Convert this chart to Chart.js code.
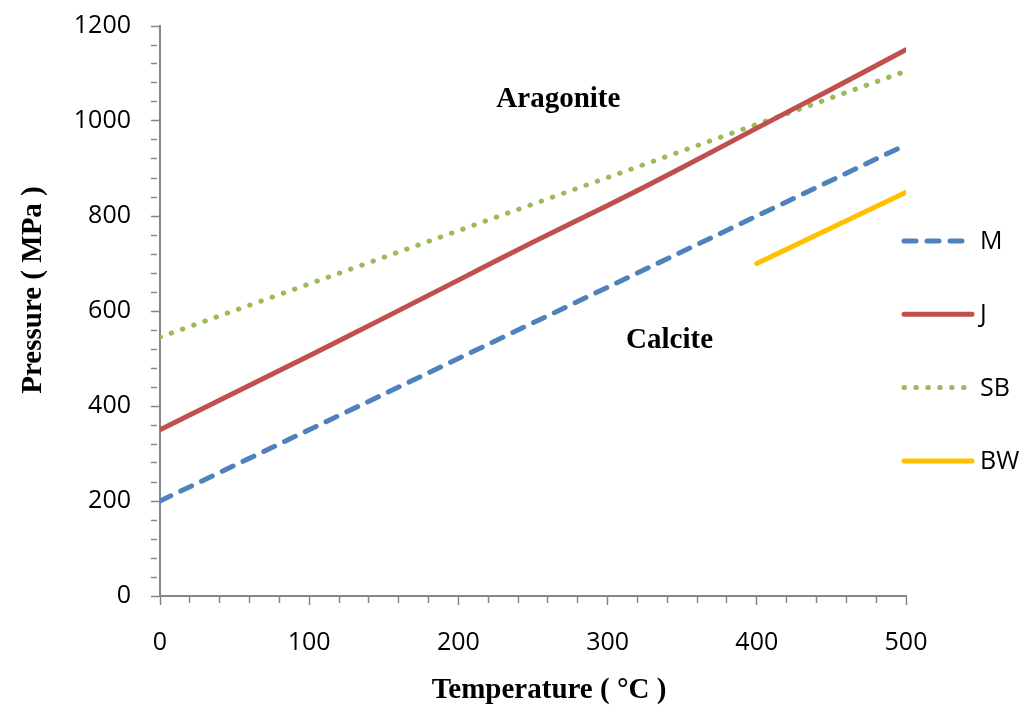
<!DOCTYPE html>
<html>
<head>
<meta charset="utf-8">
<script src="https://cdn.jsdelivr.net/npm/chart.js@4.4.1/dist/chart.umd.min.js"></script>
<style>
html, body { margin: 0; padding: 0; background: #ffffff; }
#c { display: block; }
</style>
</head>
<body>
<canvas id="c" width="1026" height="707"></canvas>
<script>
// ---- data ----
const seriesLabels = ['M', 'J', 'SB', 'BW'];
const temperatureM = [0, 100, 200, 300, 400, 500];
const pressureM = [200, 350, 500, 650, 800, 950];
const temperatureJ = [0, 50, 100, 150, 200, 250, 300, 350, 400, 450, 500];
const pressureJ = [350, 428, 506, 585, 665, 745, 822, 902, 985, 1067, 1150];
const temperatureSB = [0, 100, 200, 300, 400, 500];
const pressureSB = [545, 657, 769, 881, 993, 1105];
const temperatureBW = [400, 500];
const pressureBW = [700, 850];
const xTickLabels = [0, 100, 200, 300, 400, 500];
const yTickLabels = [0, 200, 400, 600, 800, 1000, 1200];
const xTitle = 'Temperature ( °C )';
const yTitle = 'Pressure ( MPa )';
const regionLabels = ['Aragonite', 'Calcite'];
const regionLabelX = [267, 341.5];
const regionLabelY = [1029, 522];

const colors = ['#4F81BD', '#C0504D', '#9BBB59', '#FFC000'];
const AXIS = '#868686';

function pts(xs, ys) { return xs.map((x, i) => ({ x: x, y: ys[i] })); }

const datasets = [
  { label: seriesLabels[0], data: pts(temperatureM, pressureM), borderColor: colors[0],
    borderWidth: 5, borderDash: [12, 11], borderCapStyle: 'round' },
  { label: seriesLabels[1], data: pts(temperatureJ, pressureJ), borderColor: colors[1],
    borderWidth: 5, borderCapStyle: 'round', tension: 0.3 },
  { label: seriesLabels[2], data: pts(temperatureSB, pressureSB), borderColor: colors[2],
    borderWidth: 5, borderDash: [0.5, 11.4], borderCapStyle: 'round' },
  { label: seriesLabels[3], data: pts(temperatureBW, pressureBW), borderColor: colors[3],
    borderWidth: 5, borderCapStyle: 'round' }
];
datasets.forEach(d => { d.pointRadius = 0; d.pointHoverRadius = 0; d.fill = false; d.backgroundColor = d.borderColor; });

const textPlugin = {
  id: 'textPlugin',
  afterDraw(chart) {
    const { ctx, chartArea: ca, scales } = chart;
    const x = scales.x, y = scales.y;
    ctx.save();
    ctx.fillStyle = '#000';
    ctx.font = 'bold 29px "Liberation Serif"';
    ctx.textAlign = 'center';
    ctx.textBaseline = 'alphabetic';
    regionLabels.forEach((t, i) => {
      ctx.fillText(t, x.getPixelForValue(regionLabelX[i]), y.getPixelForValue(regionLabelY[i]));
    });
    // axis titles
    ctx.fillText(xTitle, (ca.left + ca.right) / 2 + 16, 698);
    ctx.save();
    ctx.translate(41, (ca.top + ca.bottom) / 2 - 21);
    ctx.rotate(-Math.PI / 2);
    ctx.fillText(yTitle, 0, 0);
    ctx.restore();

    // legend (right side)
    ctx.font = '25px "Open Sans"';
    ctx.textAlign = 'left';
    ctx.textBaseline = 'middle';
    chart.data.datasets.forEach((ds, i) => {
      const ly = 241 + i * 73.3;
      ctx.save();
      ctx.strokeStyle = ds.borderColor;
      ctx.lineWidth = ds.borderWidth;
      ctx.lineCap = ds.borderCapStyle || 'butt';
      ctx.setLineDash(ds.borderDash || []);
      ctx.beginPath();
      ctx.moveTo(904, ly);
      ctx.lineTo(972, ly);
      ctx.stroke();
      ctx.restore();
      ctx.fillText(ds.label, 980, ly + 1);
    });
    ctx.restore();
  }
};

const isMajorX = v => xTickLabels.includes(v);
const isMajorY = v => yTickLabels.includes(v);

new Chart(document.getElementById('c'), {
  type: 'line',
  data: { datasets: datasets },
  options: {
    responsive: false,
    animation: false,
    events: [],
    layout: { padding: { left: 0, right: 120, top: 26, bottom: 0 } },
    plugins: { legend: { display: false }, tooltip: { enabled: false } },
    scales: {
      x: {
        type: 'linear', min: 0, max: 500,
        afterFit: s => { s.height = 111; s.paddingLeft = 0; s.paddingRight = 0; },
        border: { display: true, color: AXIS, width: 2 },
        grid: {
          drawOnChartArea: false, drawTicks: true, tickLength: 9,
          tickColor: AXIS, tickWidth: 1.5,
          tickBorderDash: c => (c.tick && isMajorX(c.tick.value)) ? [] : [6, 30]
        },
        ticks: {
          stepSize: 20, autoSkip: false, maxRotation: 0, minRotation: 0,
          padding: 23, color: '#000', font: { family: 'Open Sans', size: 25 },
          callback: v => isMajorX(v) ? String(v) : ''
        }
      },
      y: {
        type: 'linear', min: 0, max: 1200,
        afterFit: s => { s.width = 160; s.paddingTop = 0; s.paddingBottom = 0; },
        border: { display: true, color: AXIS, width: 2 },
        grid: {
          drawOnChartArea: false, drawTicks: true, tickLength: 9,
          tickColor: AXIS, tickWidth: 1.5,
          tickBorderDash: c => (c.tick && isMajorY(c.tick.value)) ? [] : [6, 30]
        },
        ticks: {
          stepSize: 40, autoSkip: false,
          padding: 20, color: '#000', font: { family: 'Open Sans', size: 25 },
          callback: v => isMajorY(v) ? String(v) : ''
        }
      }
    }
  },
  plugins: [textPlugin]
});
</script>
</body>
</html>
